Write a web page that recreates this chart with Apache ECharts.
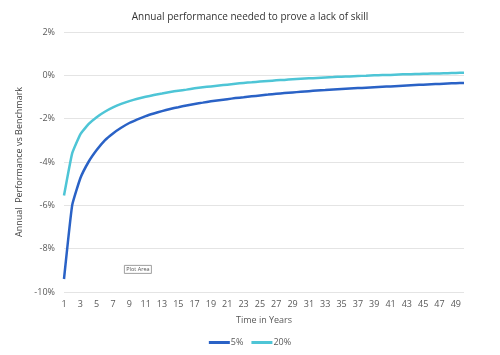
<!DOCTYPE html>
<html>
<head>
<meta charset="utf-8">
<script src="https://cdn.jsdelivr.net/npm/echarts@6/dist/echarts.min.js"></script>
<style>html,body{margin:0;padding:0;background:#fff}#c{width:500px;height:355px}</style>
</head>
<body>
<div id="c"></div>
<script>
var years = [];
for (var i = 1; i <= 50; i++) years.push(String(i));
var seriesNames = ['5%', '20%'];
var values5 = [-9.4,-6.0,-4.75,-4.0,-3.45,-3.0,-2.68,-2.42,-2.2,-2.03,
  -1.88,-1.76,-1.65,-1.55,-1.47,-1.39,-1.32,-1.26,-1.2,-1.15,
  -1.1,-1.05,-1.01,-0.97,-0.93,-0.89,-0.85,-0.82,-0.79,-0.76,
  -0.73,-0.7,-0.68,-0.65,-0.63,-0.61,-0.59,-0.57,-0.55,-0.53,
  -0.51,-0.49,-0.47,-0.45,-0.43,-0.41,-0.4,-0.38,-0.36,-0.35];
var values20 = [-5.55,-3.6,-2.72,-2.25,-1.93,-1.68,-1.48,-1.32,-1.19,-1.08,
  -0.99,-0.91,-0.84,-0.77,-0.71,-0.66,-0.6,-0.55,-0.51,-0.47,
  -0.43,-0.39,-0.35,-0.32,-0.29,-0.26,-0.23,-0.21,-0.18,-0.16,
  -0.14,-0.12,-0.1,-0.08,-0.06,-0.05,-0.03,-0.02,0.0,0.01,
  0.02,0.04,0.05,0.06,0.07,0.08,0.09,0.1,0.11,0.12];
var titleText = 'Annual performance needed to prove a lack of skill';
var yAxisName = 'Annual  Performance vs Benchmark';
var xAxisName = 'Time in Years';

var font = '"Open Sans", "Noto Sans", sans-serif';
var chart = echarts.init(document.getElementById('c'), null, {renderer: 'canvas'});
chart.setOption({
  animation: false,
  title: {
    text: titleText, left: 245, top: 7, textAlign: 'center',
    textStyle: {fontFamily: font, fontSize: 10, fontWeight: 'normal', color: '#333'}
  },
  grid: {left: 64, right: 36, top: 32, bottom: 63},
  legend: {
    data: seriesNames, bottom: 3, left: 'center',
    itemWidth: 21, itemHeight: 3, itemGap: 8, icon: 'rect',
    textStyle: {fontFamily: font, fontSize: 9, color: '#595959', padding: [0, 0, 0, -4]}
  },
  xAxis: {
    type: 'category', data: years, boundaryGap: false,
    name: xAxisName, nameLocation: 'middle', nameGap: 24,
    nameTextStyle: {fontFamily: font, fontSize: 9, color: '#595959'},
    axisLine: {show: false}, axisTick: {show: false},
    axisLabel: {interval: 1, fontFamily: font, fontSize: 9, color: '#595959', margin: 8}
  },
  yAxis: {
    type: 'value', min: -10, max: 2, interval: 2,
    name: yAxisName, nameLocation: 'middle', nameGap: 34,
    nameTextStyle: {fontFamily: font, fontSize: 9, color: '#404040'},
    axisLine: {show: false}, axisTick: {show: false},
    axisLabel: {formatter: '{value}%', fontFamily: font, fontSize: 9, color: '#595959', margin: 9},
    splitLine: {lineStyle: {color: '#e4e4e4', width: 1}}
  },
  graphic: [{
    type: 'group', left: 124, top: 265,
    children: [
      {type: 'rect', shape: {x: 0, y: 0, width: 27, height: 8},
       style: {fill: '#fff', stroke: '#888', lineWidth: 0.8}},
      {type: 'text', style: {x: 13.5, y: 1.5, text: 'Plot Area', fontSize: 5.5, fill: '#555', align: 'center', fontFamily: font}}
    ]
  }],
  series: [
    {name: seriesNames[0], type: 'line', data: values5, smooth: 0.12, showSymbol: false,
     lineStyle: {color: '#2a62c6', width: 2.5}, itemStyle: {color: '#2a62c6'}},
    {name: seriesNames[1], type: 'line', data: values20, smooth: 0.12, showSymbol: false,
     lineStyle: {color: '#4ec5d6', width: 2.5}, itemStyle: {color: '#4ec5d6'}}
  ]
});
</script>
</body>
</html>
